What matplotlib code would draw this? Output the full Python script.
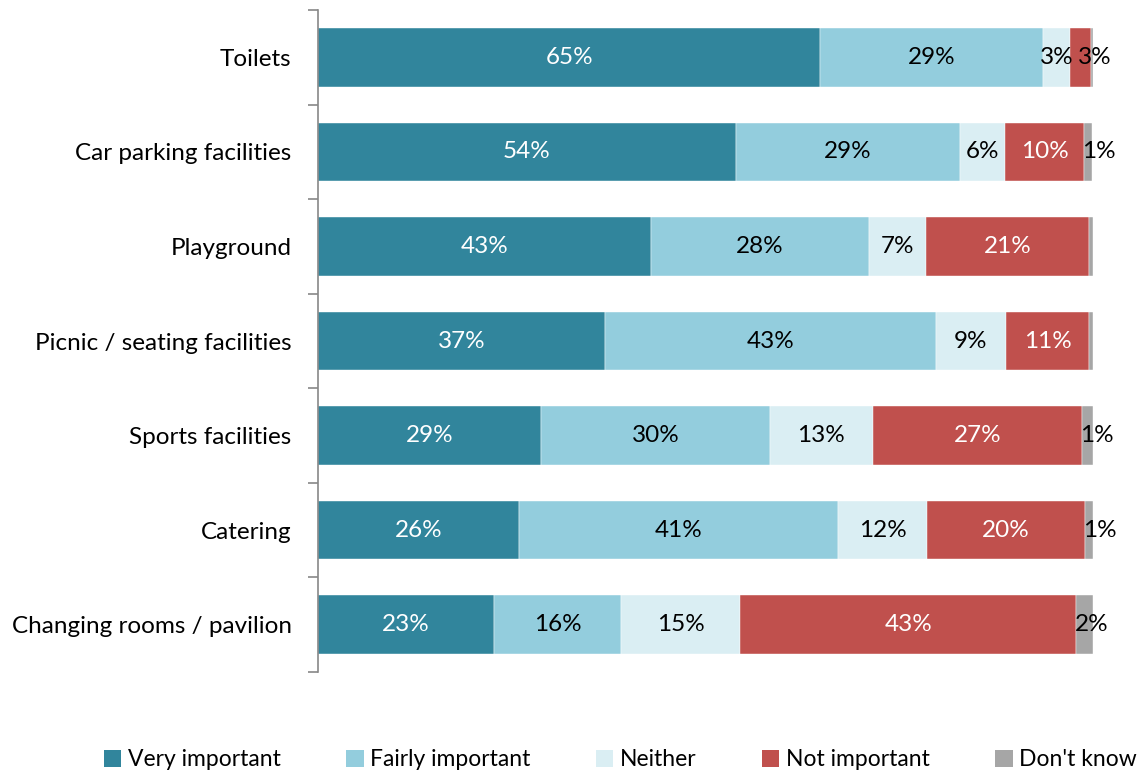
import numpy as np
import matplotlib.pyplot as plt
from matplotlib.patches import Patch

plt.rcParams['font.family'] = ['Lato', 'DejaVu Sans']

categories = ['Toilets', 'Car parking facilities', 'Playground',
              'Picnic / seating facilities', 'Sports facilities',
              'Catering', 'Changing rooms / pavilion']
series = ['Very important', 'Fairly important', 'Neither',
          'Not important', "Don't know"]

very = [64.8, 53.9, 43.0, 37.0, 28.8, 25.9, 22.7]
fairly = [28.8, 28.9, 28.1, 42.7, 29.5, 41.2, 16.4]
neither = [3.4, 5.9, 7.4, 9.1, 13.3, 11.5, 15.4]
not_imp = [2.7, 10.2, 21.0, 10.7, 27.0, 20.4, 43.3]
dont_know = [0.3, 1.0, 0.5, 0.5, 1.4, 1.0, 2.2]

# labels as printed on the chart (None = no label)
labels = [
    ['65%', '54%', '43%', '37%', '29%', '26%', '23%'],
    ['29%', '29%', '28%', '43%', '30%', '41%', '16%'],
    ['3%', '6%', '7%', '9%', '13%', '12%', '15%'],
    ['3%', '10%', '21%', '11%', '27%', '20%', '43%'],
    [None, '1%', None, None, '1%', '1%', '2%'],
]

colors = ['#31859C', '#93CDDD', '#DAEEF3', '#C0504D', '#A6A6A6']
text_colors = ['white', 'black', 'black', 'white', 'black']
fs = 17.5

fig = plt.figure(figsize=(11.41, 7.73), dpi=100)
ax = fig.add_axes([318 / 1141, 1 - 672 / 773, 775 / 1141, 662 / 773])

y = np.arange(len(categories))
left = np.zeros(len(categories))
for i, vals in enumerate([very, fairly, neither, not_imp, dont_know]):
    vals = np.array(vals)
    ax.barh(y, vals, left=left, height=0.62, color=colors[i],
            edgecolor='white', linewidth=0.3, label=series[i])
    for j, v in enumerate(vals):
        lab = labels[i][j]
        if lab is None:
            continue
        if v < 3.0:
            # small segments: label starts near the segment's left edge
            ax.text(left[j] + v * 0.05 + (0.9 if i == 3 else -0.3), y[j], lab,
                    ha='left', va='center', fontsize=fs, color='black')
        else:
            ax.text(left[j] + v / 2, y[j], lab, ha='center', va='center',
                    fontsize=fs, color=text_colors[i])
    left += vals

ax.set_xlim(0, 100)
ax.set_ylim(len(categories) - 0.5, -0.5)
ax.set_yticks(y)
ax.set_yticklabels(categories, fontsize=fs)
ax.tick_params(axis='y', which='major', length=0, pad=19)
ax.set_yticks(np.arange(-0.5, len(categories)), minor=True)
ax.tick_params(axis='y', which='minor', length=7, color='#888888', width=1.2)
ax.set_xticks([])
for s in ['top', 'right', 'bottom']:
    ax.spines[s].set_visible(False)
ax.spines['left'].set_color('#888888')
ax.spines['left'].set_linewidth(1.2)

handles = [Patch(facecolor=c, edgecolor='none') for c in colors]
fig.legend(handles, series, loc='center', bbox_to_anchor=(0.544, 0.017),
           ncol=5, frameon=False, fontsize=16.5, handlelength=0.75,
           handleheight=0.75, handletextpad=0.3, columnspacing=2.85)

plt.savefig('out.png', dpi=100)
